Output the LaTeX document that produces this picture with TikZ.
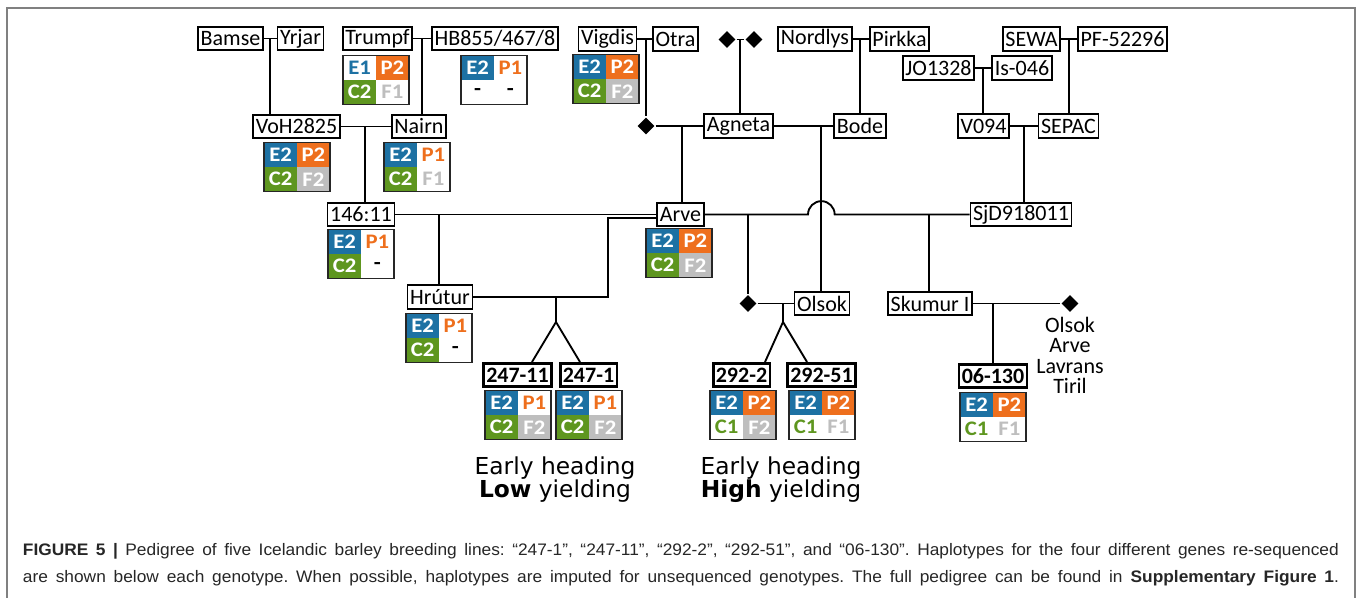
\documentclass[tikz,border=0pt]{standalone}
\usepackage{fontspec}
\setmainfont{Carlito}
\newfontfamily\cellfont[FakeStretch=1.1]{Carlito}
\newfontfamily\verdfont{DejaVu Sans}
\newfontfamily\capfont[FakeStretch=1.04]{Liberation Sans}
\usepackage{tikz}
\usetikzlibrary{shapes.geometric,calc}

\definecolor{hblue}{HTML}{1D71A3}
\definecolor{horange}{HTML}{EE6F1D}
\definecolor{hgreen}{HTML}{5E961F}
\definecolor{hgrey}{HTML}{BEBEBE}

\tikzset{
  plant/.style={draw, line width=1.3pt, inner xsep=2pt, inner ysep=0pt,
    minimum height=17.5pt, font=\fontsize{16.5}{16.5}\selectfont},
  sel/.style={plant, line width=2pt, font=\fontsize{16.5}{16.5}\selectfont\bfseries},
  dia/.style={diamond, fill=black, inner sep=0pt, minimum size=13pt},
  cell/.style={minimum width=24.5pt, minimum height=18.4pt, inner sep=0pt,
    outer sep=0pt, font=\cellfont\fontsize{15.5}{15.5}\selectfont\bfseries},
  hE1/.style={cell, text=hblue, node contents=E1},
  hE2/.style={cell, fill=hblue, text=white, node contents=E2},
  hP1/.style={cell, text=horange, node contents=P1},
  hP2/.style={cell, fill=horange, text=white, node contents=P2},
  hC1/.style={cell, text=hgreen, node contents=C1},
  hC2/.style={cell, fill=hgreen, text=white, node contents=C2},
  hF1/.style={cell, text=hgrey, node contents=F1},
  hF2/.style={cell, fill=hgrey, text=white, node contents=F2},
  hnil/.style={cell, text=black, node contents=-},
  hapframe/.style={draw=black!85, line width=1.3pt},
}

% haplotype grid: name, centre, E, P, C, F
\newcommand{\haplo}[6]{%
  \node (#1e) at (#2) [#3, anchor=south east];
  \node (#1p) at (#2) [#4, anchor=south west];
  \node (#1c) at (#2) [#5, anchor=north east];
  \node (#1f) at (#2) [#6, anchor=north west];
  \draw[hapframe] (#1e.north west) rectangle (#1f.south east);
}

\begin{document}
\begin{tikzpicture}[x=0.75pt,y=-0.75pt,line width=1.4pt]
\useasboundingbox (0,0) rectangle (1358,598);
\draw[gray,line width=1.2pt] (7,598) |- (1355,8) -- (1355,598);

% top row
\node[plant] (bamse)   at (230.5,38.5) {Bamse};
\node[plant] (yrjar)   at (300.5,38.5) {Yrjar};
\node[plant] (trumpf)  at (377.5,38.5) {Trumpf};
\node[plant] (hb)      at (495,38.5)   {HB855/467/8};
\node[plant] (vigdis)  at (607.5,39)   {Vigdis};
\node[plant] (otra)    at (675.5,39)   {Otra};
\node[dia]   (dtop1)   at (727,39.5)   {};
\node[dia]   (dtop2)   at (754,39.5)   {};
\node[plant] (nordlys) at (815,39)     {Nordlys};
\node[plant] (pirkka)  at (899.5,39)   {Pirkka};
\node[plant] (sewa)    at (1031.5,39)  {SEWA};
\node[plant] (pf)      at (1122.5,39)  {PF-52296};
\node[plant] (jo)      at (938.5,68)   {JO1328};
\node[plant] (is)      at (1022,68)    {Is-046};

% second row
\node[plant] (voh)    at (296.5,126.5) {VoH2825};
\node[plant] (nairn)  at (419,126.5)   {Nairn};
\node[dia]   (dvig)   at (646,126)     {};
\node[plant] (agneta) at (738.5,126)   {Agneta};
\node[plant] (bode)   at (860,126)     {Bode};
\node[plant] (v094)   at (983.5,126)   {V094};
\node[plant] (sepac)  at (1068.5,126)  {SEPAC};

% third row
\node[plant] (c14611) at (361,214.5)  {146:11};
\node[plant] (arve)   at (680.5,214.5) {Arve};
\node[plant] (sjd)    at (1021,214.5) {SjD918011};

% fourth row
\node[plant] (hrutur) at (440,297)    {Hrútur};
\node[dia]   (dols)   at (748,303.5)  {};
\node[plant] (olsok)  at (822,303.5)  {Olsok};
\node[plant] (skumur) at (930,303.5)  {Skumur I};
\node[dia]   (dsk)    at (1070,303.5) {};
\node[anchor=north, inner sep=0pt, align=center,
  font=\fontsize{16.5}{15.4}\selectfont] (others) at (1070,316)
  {Olsok\\Arve\\Lavrans\\Tiril};

% breeding lines
\node[sel] (b24711) at (517.5,375) {247-11};
\node[sel] (b2471)  at (588.5,375) {247-1};
\node[sel] (b2922)  at (741.5,375) {292-2};
\node[sel] (b29251) at (821.5,375) {292-51};
\node[sel] (b06130) at (993,376)   {06-130};

% haplotypes
\haplo{htr}{376,80}{hE1}{hP2}{hC2}{hF1}
\haplo{hhb}{494,80}{hE2}{hP1}{hnil}{hnil}
\haplo{hvi}{606,79}{hE2}{hP2}{hC2}{hF2}
\haplo{hvo}{297,167}{hE2}{hP2}{hC2}{hF2}
\haplo{hna}{417,167}{hE2}{hP1}{hC2}{hF1}
\haplo{h14}{361,254}{hE2}{hP1}{hC2}{hnil}
\haplo{har}{679,253}{hE2}{hP2}{hC2}{hF2}
\haplo{hhr}{439,338}{hE2}{hP1}{hC2}{hnil}
\haplo{ha}{518,415}{hE2}{hP1}{hC2}{hF2}
\haplo{hb}{589,415}{hE2}{hP1}{hC2}{hF2}
\haplo{hc}{743,415}{hE2}{hP2}{hC1}{hF2}
\haplo{hd}{822,415}{hE2}{hP2}{hC1}{hF1}
\haplo{hf}{993,417}{hE2}{hP2}{hC1}{hF1}

% crosses
\draw (bamse) -- (yrjar);
\coordinate (jby) at (270,38.5);
\draw (jby) -- (jby |- voh.north);
\draw (trumpf) -- (hb);
\coordinate (jth) at (422,38.5);
\draw (jth) -- (jth |- nairn.north);
\draw (vigdis) -- (otra);
\coordinate (jvo) at (646,39);
\draw (jvo) -- (dvig);
\draw (dvig) -- (agneta);
\coordinate (jva) at (682,126);
\draw (jva) -- (jva |- arve.north);
\draw (dtop1) -- (dtop2);
\coordinate (jdd) at (740,39.5);
\draw (jdd) -- (jdd |- agneta.north);
\draw (nordlys) -- (pirkka);
\coordinate (jnp) at (860,39);
\draw (jnp) -- (jnp |- bode.north);
\draw (agneta) -- (bode);
\coordinate (jab) at (821,126);
\draw (jab) -- (jab |- olsok.north);
\draw (sewa) -- (pf);
\coordinate (jsp) at (1069,39);
\draw (jsp) -- (jsp |- sepac.north);
\draw (jo) -- (is);
\coordinate (jji) at (983,68);
\draw (jji) -- (jji |- v094.north);
\draw (v094) -- (sepac);
\coordinate (jvs) at (1024,126);
\draw (jvs) -- (jvs |- sjd.north);
\draw (voh) -- (nairn);
\coordinate (jvn) at (365,126.5);
\draw (jvn) -- (jvn |- c14611.north);

\draw (c14611) -- (arve);
\coordinate (jca) at (439,214.5);
\draw (jca) -- (jca |- hrutur.north);
\draw (hrutur) -| (608,218) -- (arve.west |- 608,218);
\coordinate (jha) at (556,297);
\draw (jha) -- (556,322) coordinate (fk1) -- ($(b24711.north)+(14.5,0)$);
\draw (fk1) -- ($(b2471.north)+(-8.5,0)$);

\draw (arve) -- (808,214.5) arc[start angle=180,end angle=0,radius=10pt] -- (sjd);
\coordinate (jao) at (748,214.5);
\draw (jao) -- (dols);
\draw (dols) -- (olsok);
\coordinate (jdo) at (783,303.5);
\draw (jdo) -- (783,322) coordinate (fk2) -- ($(b2922.north)+(23.5,0)$);
\draw (fk2) -- ($(b29251.north)+(-14.5,0)$);
\coordinate (jas) at (929,214.5);
\draw (jas) -- (jas |- skumur.north);
\draw (skumur) -- (dsk);
\coordinate (jsd) at (993,303.5);
\draw (jsd) -- (jsd |- b06130.north);

% phenotypes
\node[anchor=north, inner sep=0pt, align=center,
  font=\verdfont\fontsize{17.5}{17.5}\selectfont] (low) at (555,455.5)
  {Early heading\\\textbf{Low} yielding};
\node[anchor=north, inner sep=0pt, align=center,
  font=\verdfont\fontsize{17.5}{17.5}\selectfont] (high) at (781,455.5)
  {Early heading\\\textbf{High} yielding};

% caption
\node[anchor=base west, inner sep=0pt, text=black!85,
  font=\capfont\fontsize{12.5}{12.5}\selectfont\frenchspacing] (cap1) at (22,555)
  {\makebox[987pt][s]{\textbf{FIGURE 5 |} Pedigree of five Icelandic barley breeding lines: “247-1”, “247-11”, “292-2”, “292-51”, and “06-130”. Haplotypes for the four different genes re-sequenced}};
\node[anchor=base west, inner sep=0pt, text=black!85,
  font=\capfont\fontsize{12.5}{12.5}\selectfont\frenchspacing] (cap2) at (22,582)
  {\makebox[987pt][s]{are shown below each genotype. When possible, haplotypes are imputed for unsequenced genotypes. The full pedigree can be found in \textbf{Supplementary Figure 1}.}};
\end{tikzpicture}
\end{document}
